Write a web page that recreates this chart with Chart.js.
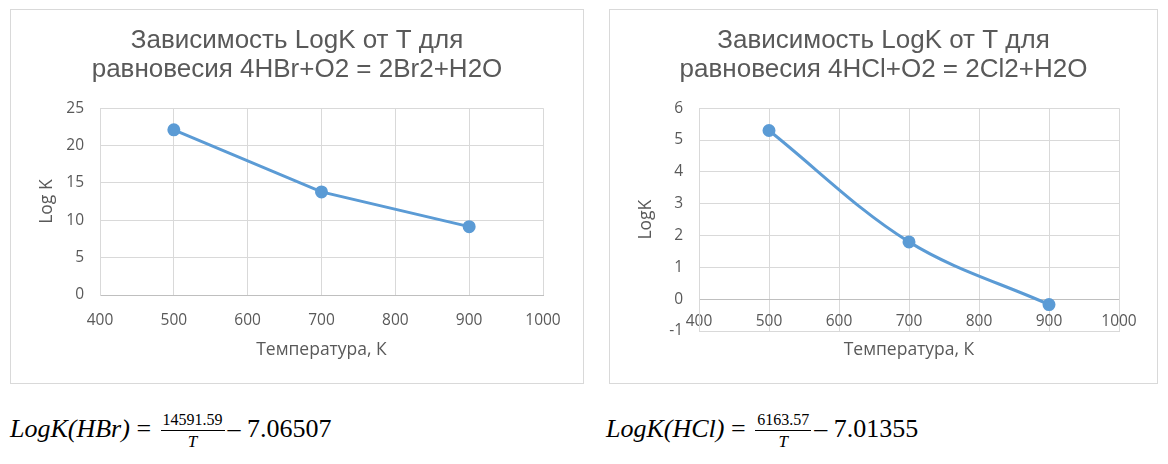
<!DOCTYPE html>
<html>
<head>
<meta charset="utf-8">
<script src="https://cdn.jsdelivr.net/npm/chart.js@4.4.1/dist/chart.umd.min.js"></script>
<style>
  body { margin: 0; background: #fff; width: 1168px; height: 464px; overflow: hidden; position: relative; }
  .box { position: absolute; border: 1px solid #d9d9d9; background: #fff; }
  .formula { position: absolute; font-family: "Liberation Serif", serif; font-style: italic; font-size: 26px; color: #000; white-space: nowrap; }
  .frac { display: inline-block; vertical-align: middle; text-align: center; margin: 0 3px; }
  .frac .num { display: block; font-style: normal; font-size: 16px; border-bottom: 1.5px solid #000; padding: 0 2px 2px; line-height: 17px; }
  .frac .den { display: block; font-size: 17px; line-height: 21px; }
  .up { font-style: normal; }
</style>
</head>
<body>
<div class="box" style="left:10px; top:9px; width:572px; height:373px;"><canvas id="hbr" width="572" height="373"></canvas></div>
<div class="box" style="left:609px; top:9px; width:547px; height:373px;"><canvas id="hcl" width="547" height="373"></canvas></div>

<div class="formula" style="left:10px; top:411px;">LogK(HBr) <span class="up">=</span> <span class="frac"><span class="num">14591.59</span><span class="den">T</span></span><span class="up">– 7.06507</span></div>
<div class="formula" style="left:606px; top:411px;">LogK(HCl) <span class="up">=</span> <span class="frac"><span class="num">6163.57</span><span class="den">T</span></span><span class="up">– 7.01355</span></div>

<script>
// температуры, К
var temps = [500, 700, 900];
// LogK по графикам
var logK_HBr = [22.1, 13.8, 9.15];
var logK_HCl = [5.3, 1.8, -0.17];

var titleHBr = ["Зависимость LogK от Т для", "равновесия 4HBr+O2 = 2Br2+H2O"];
var titleHCl = ["Зависимость LogK от Т для", "равновесия 4HCl+O2 = 2Cl2+H2O"];

var gray = "#595959";
var blue = "#5b9bd5";
var grid = "#d9d9d9";
var axisDark = "#bfbfbf";
var tickFont = { family: "Open Sans", size: 15.5 };
var axisTitleFont = { family: "Open Sans", size: 17.5 };

function points(ys) {
    return temps.map(function (t, i) { return { x: t, y: ys[i] }; });
}

function plain(v) { return String(v); }

function makeChart(id, title, ys, yTitle, yMin, yMax, yStep, smooth, xTicks, xHeight, padRight) {
    return new Chart(document.getElementById(id), {
        type: 'line',
        data: {
            datasets: [{
                data: points(ys),
                borderColor: blue,
                backgroundColor: blue,
                borderWidth: 3,
                pointRadius: 5,
                pointHoverRadius: 5,
                tension: smooth ? 0.35 : 0
            }]
        },
        options: {
            responsive: false,
            animation: false,
            layout: { padding: 0 },
            plugins: {
                legend: { display: false },
                tooltip: { enabled: false },
                title: {
                    display: true,
                    text: title,
                    color: gray,
                    font: { family: "Liberation Sans", size: 26, weight: 'normal', lineHeight: 1.1 },
                    padding: { top: 16.5, bottom: 24.5 }
                }
            },
            scales: {
                x: {
                    type: 'linear',
                    min: 400,
                    max: 1000,
                    ticks: Object.assign({ stepSize: 100, color: gray, font: tickFont, maxRotation: 0, callback: plain }, xTicks),
                    grid: { color: grid, drawTicks: false },
                    border: { color: yMin === 0 ? axisDark : grid },
                    title: { display: true, text: "Температура, К", color: gray, font: axisTitleFont, padding: { top: 0, bottom: 22 } },
                    // поле справа от области графика, заголовок остаётся по центру
                    afterFit: function (s) { s.height = xHeight; s.paddingRight = padRight; }
                },
                y: {
                    min: yMin,
                    max: yMax,
                    ticks: { stepSize: yStep, color: gray, font: tickFont, padding: 16, callback: plain },
                    grid: {
                        drawTicks: false,
                        color: function (c) { return c.tick && c.tick.value === 0 ? axisDark : grid; }
                    },
                    border: { color: grid },
                    title: { display: true, text: yTitle, color: gray, font: axisTitleFont, padding: { top: 26, bottom: 0 } },
                    afterFit: function (s) { s.width = 89; }
                }
            }
        }
    });
}

makeChart("hbr", titleHBr, logK_HBr, "Log K", 0, 25, 5, false, { padding: 16 }, 88, 40);
// у второго графика подписи оси X стоят у линии нуля
makeChart("hcl", titleHCl, logK_HCl, "LogK", -1, 6, 1, true, { mirror: true, padding: 0 }, 52, 38);
</script>
</body>
</html>
